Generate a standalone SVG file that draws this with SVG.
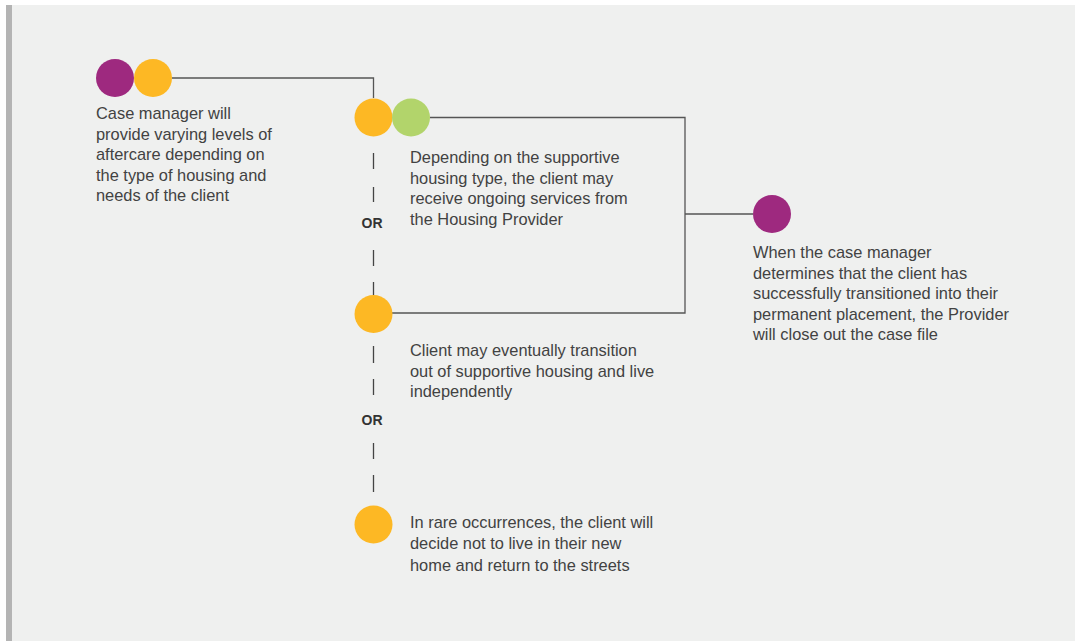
<svg xmlns="http://www.w3.org/2000/svg" width="1079" height="641" viewBox="0 0 1079 641">
<style>
.t{font-family:"Liberation Sans",Arial,sans-serif;font-size:16.4px;fill:#424242}
.or{font-family:"Liberation Sans",Arial,sans-serif;font-size:14px;font-weight:bold;fill:#333;text-anchor:middle}
.ln{fill:none;stroke:#555;stroke-width:1.3}
.dash{fill:none;stroke:#444;stroke-width:1.3}
.p{fill:#9e297f}.o{fill:#fdb824}.g{fill:#b2d46b}
</style>
<rect x="0" y="0" width="1079" height="641" fill="#ffffff"/>
<rect x="6" y="5" width="1069" height="636" fill="#eff0ef"/>
<rect x="6" y="5" width="6" height="636" fill="#b4b4b4"/>
<g id="connectors">
<path class="ln" d="M172 78 H373.5 V98"/>
<path class="ln" d="M430 117.5 H685 V313 H392"/>
<path class="ln" d="M685 214 H753"/>
<path class="dash" d="M373.5 153 V169 M373.5 187 V202 M373.5 250 V266 M373.5 282 V295"/>
<path class="dash" d="M373.5 346 V363 M373.5 379 V395 M373.5 443 V459 M373.5 475 V492"/>
<text class="or" x="372" y="228">OR</text>
<text class="or" x="372" y="425">OR</text>
</g>
<g id="node1">
<circle class="p" cx="115" cy="78" r="19"/>
<circle class="o" cx="153" cy="78" r="19"/>
<text class="t" x="96" y="119">Case manager will</text>
<text class="t" x="96" y="139.5">provide varying levels of</text>
<text class="t" x="96" y="160">aftercare depending on</text>
<text class="t" x="96" y="180.5">the type of housing and</text>
<text class="t" x="96" y="201">needs of the client</text>
</g>
<g id="node2">
<circle class="o" cx="373.5" cy="117.5" r="19"/>
<circle class="g" cx="411" cy="117.5" r="19"/>
<text class="t" x="410" y="163">Depending on the supportive</text>
<text class="t" x="410" y="183.5">housing type, the client may</text>
<text class="t" x="410" y="204">receive ongoing services from</text>
<text class="t" x="410" y="224.5">the Housing Provider</text>
</g>
<g id="node3">
<circle class="o" cx="373.5" cy="314" r="19"/>
<text class="t" x="410" y="356">Client may eventually transition</text>
<text class="t" x="410" y="376.5">out of supportive housing and live</text>
<text class="t" x="410" y="397">independently</text>
</g>
<g id="node4">
<circle class="o" cx="373.5" cy="524.5" r="19"/>
<text class="t" x="410" y="527.5">In rare occurrences, the client will</text>
<text class="t" x="410" y="549">decide not to live in their new</text>
<text class="t" x="410" y="571">home and return to the streets</text>
</g>
<g id="node5">
<circle class="p" cx="772" cy="214" r="19"/>
<text class="t" x="753" y="258">When the case manager</text>
<text class="t" x="753" y="278.5">determines that the client has</text>
<text class="t" x="753" y="299">successfully transitioned into their</text>
<text class="t" x="753" y="319.5">permanent placement, the Provider</text>
<text class="t" x="753" y="340">will close out the case file</text>
</g>
</svg>
